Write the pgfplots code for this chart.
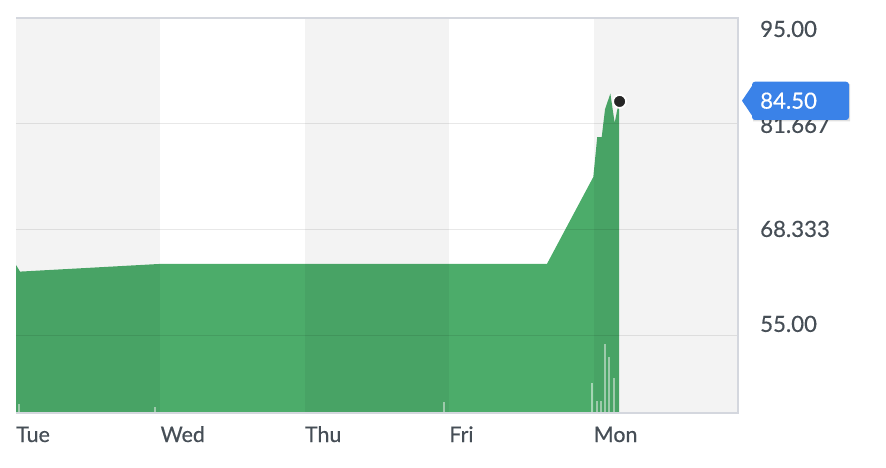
\documentclass[border=0pt]{standalone}
\usepackage{fontspec}
\setmainfont{Lato}
\newfontfamily\lab[FakeBold=0.5]{Lato}
\usepackage{pgfplots}
\pgfplotsset{compat=1.18}
\definecolor{areagreen}{RGB}{76,172,106}
\definecolor{txt}{RGB}{70,78,86}
\definecolor{tagblue}{RGB}{58,130,232}
\definecolor{framec}{RGB}{212,215,222}
\begin{document}
\begin{tikzpicture}
\path[use as bounding box] (0,0) rectangle (886bp,468bp);
\begin{axis}[
  name=ax,
  at={(16bp,55bp)}, anchor=south west,
  scale only axis, width=722bp, height=395bp,
  xmin=0, xmax=5, ymin=45.3, ymax=95,
  axis line style={draw=none},
  major tick length=0pt,
  xtick={0,1,2,3,4}, xticklabels={Tue,Wed,Thu,Fri,Mon},
  xticklabel style={anchor=base west, inner sep=0pt, yshift=-29bp, font=\lab\fontsize{21.5}{21.5}\selectfont, text=txt},
  ytick={55,68.333,81.667,95}, yticklabels={,,,,},
  yticklabel pos=right,
  ymajorgrids, major grid style={black, opacity=0.09, line width=1bp},
  extra y ticks={93.62,81.55,68.46,56.51},
  extra y tick labels={95.00,81.667,68.333,55.00},
  extra y tick style={grid=none, major tick length=0pt},
  yticklabel style={anchor=west, inner sep=0pt, xshift=22bp, font=\lab\fontsize{22.3}{22.3}\selectfont, text=txt},
  axis on top,
]
% price area
\addplot[fill=areagreen, draw=none] coordinates {
  (0,63.93) (0.028,63.09) (1.0,64.06) (3.677,64.06) (3.998,75.0)
  (4.025,80.0) (4.056,80.0) (4.079,83.5) (4.116,85.5) (4.146,81.8)
  (4.162,83.3) (4.176,84.5)
} \closedcycle;
% volume bars
\addplot[ycomb, white, opacity=0.5, line width=2bp] coordinates {
  (0.021,46.45) (0.963,46.07) (2.964,46.74) (3.991,49.09) (4.021,46.82)
  (4.049,46.82) (4.079,53.99) (4.109,52.40) (4.139,49.72)
};
% day bands
\fill[black, opacity=0.047] (axis cs:0,45.3) rectangle (axis cs:1,95);
\fill[black, opacity=0.047] (axis cs:2,45.3) rectangle (axis cs:3,95);
\fill[black, opacity=0.047] (axis cs:4,45.3) rectangle (axis cs:5,95);
% last point
\addplot[only marks, mark=*, mark size=6.5bp, mark options={fill=black!85, draw=white, line width=1.8bp}] coordinates {(4.18,84.5)};
\end{axis}
\draw[framec, line width=1.5bp] (ax.north west) -- (ax.north east) -- (ax.south east) -- (ax.south west);
% price tag
\fill[black, opacity=0.12] (743bp,365.8bp) -- (753bp,351bp) -- (753bp,346.5bp) -- (850bp,346.5bp) -- (850bp,384bp) -- (753bp,384bp) -- cycle;
\fill[tagblue] (742bp,367.3bp) -- (752bp,382bp) [rounded corners=3bp] -- (752bp,386.3bp) -- (849bp,386.3bp) -- (849bp,348bp) -- (752bp,348bp) [sharp corners] -- (752bp,352.5bp) -- cycle;
\node[anchor=west, inner sep=0pt, text=white, font=\lab\fontsize{22.3}{22.3}\selectfont] at (760bp,367.3bp) {84.50};
\end{tikzpicture}
\end{document}
